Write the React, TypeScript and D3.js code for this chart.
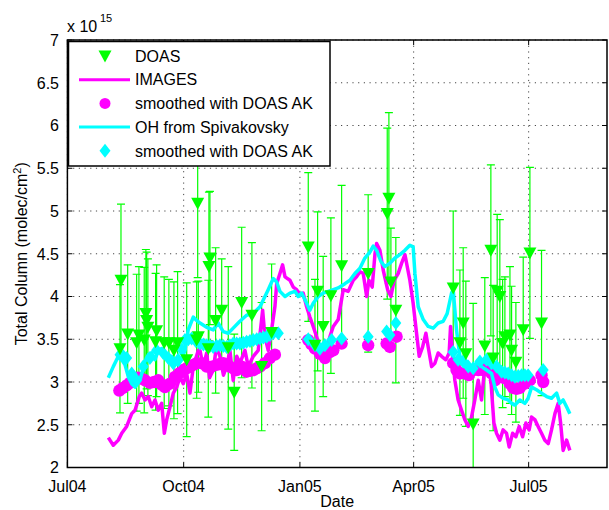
import React from 'react';
import * as d3 from 'd3';

// ---------- data (days since 2004-07-01, total column in 1e15 molec/cm2) ----------
const BASE = new Date(2004, 6, 1);
const dayToDate = (d: number) => new Date(BASE.getTime() + d * 86400000);

const xTickDays = [0, 92, 184, 274, 365];
const xTickLabels = ['Jul04', 'Oct04', 'Jan05', 'Apr05', 'Jul05'];
const yTicks = [2, 2.5, 3, 3.5, 4, 4.5, 5, 5.5, 6, 6.5, 7];

const doasDay = [41.6, 42.4, 47.7, 54.8, 56.6, 60.8, 62.1, 62.7, 63.7, 69.8, 70.6, 76.6, 80.3, 84.3, 87.2, 94.4, 102.3, 103.1, 103.6, 111.5, 112.0, 112.8, 117.3, 122.1, 127.3, 132.0, 137.9, 146.0, 153.7, 161.6, 190.6, 195.9, 198.0, 202.4, 208.5, 217.0, 238.0, 253.1, 254.4, 256.0, 259.9, 305.3, 310.6, 313.2, 315.3, 321.1, 330.3, 335.1, 336.9, 340.1, 342.2, 344.4, 346.2, 350.2, 351.5, 354.9, 360.7, 366.0, 375.2];
const doasVal = [3.39, 4.19, 3.56, 3.46, 3.55, 3.49, 3.80, 3.72, 3.64, 3.47, 3.60, 3.46, 3.46, 3.37, 3.46, 3.26, 3.49, 5.09, 3.53, 3.39, 4.35, 4.45, 3.72, 3.84, 3.40, 2.88, 3.93, 3.78, 3.18, 3.58, 4.58, 3.43, 4.06, 3.65, 4.01, 4.36, 4.27, 4.97, 5.15, 4.17, 3.84, 4.10, 3.46, 3.69, 3.33, 2.51, 3.42, 4.54, 3.28, 4.06, 4.00, 3.45, 3.53, 3.55, 3.37, 3.23, 3.61, 4.51, 3.69];
const doasErr = [0.75, 0.89, 0.81, 0.80, 0.80, 0.85, 0.75, 0.80, 0.80, 0.80, 0.77, 0.77, 0.74, 0.80, 0.83, 0.90, 0.68, 0.87, 0.65, 0.80, 0.87, 0.78, 0.85, 0.60, 0.95, 0.68, 0.88, 0.85, 0.75, 0.80, 0.87, 0.77, 0.93, 0.82, 0.91, 0.94, 0.92, 1.00, 1.00, 0.63, 0.85, 0.90, 0.85, 0.88, 0.85, 1.41, 0.80, 1.00, 0.85, 0.90, 0.90, 0.75, 0.70, 0.80, 0.75, 0.70, 0.85, 1.00, 0.85];

const imagesDay = [32.4, 36.3, 40.3, 43.0, 46.9, 50.9, 53.5, 56.9, 58.8, 61.4, 64.0, 66.7, 69.3, 71.9, 74.6, 76.7, 78.6, 81.2, 83.8, 86.5, 89.1, 91.7, 94.4, 97.0, 99.6, 103.6, 104.9, 107.5, 110.2, 112.5, 115.4, 118.0, 120.7, 123.5, 126.0, 128.6, 131.2, 134.0, 136.5, 140.5, 143.1, 147.1, 151.0, 154.5, 156.3, 158.9, 161.6, 164.2, 165.6, 168.2, 170.3, 172.2, 176.1, 178.7, 181.4, 184.0, 186.6, 189.3, 191.9, 194.5, 197.2, 199.8, 202.4, 205.1, 207.7, 210.4, 214.3, 218.3, 222.2, 226.2, 228.8, 231.5, 234.1, 236.8, 238.6, 241.2, 243.4, 244.7, 247.3, 249.9, 253.4, 256.0, 258.6, 261.8, 264.5, 267.1, 271.0, 273.6, 276.3, 278.4, 281.1, 283.7, 285.5, 288.2, 290.8, 293.4, 296.1, 299.5, 302.1, 303.2, 304.8, 306.6, 309.2, 311.9, 314.5, 317.2, 319.8, 322.4, 325.1, 327.7, 330.3, 332.5, 335.1, 337.5, 339.6, 342.2, 344.8, 347.5, 349.6, 352.3, 354.9, 357.5, 360.2, 362.8, 365.4, 367.3, 369.9, 372.5, 375.2, 377.8, 380.5, 383.1, 385.8, 388.4, 390.3, 392.3, 395.0, 397.6];
const imagesVal = [2.35, 2.26, 2.32, 2.40, 2.48, 2.63, 2.67, 2.83, 2.87, 2.79, 2.83, 2.71, 2.79, 2.67, 2.75, 2.40, 2.56, 2.71, 2.87, 2.94, 3.06, 2.98, 3.10, 2.87, 3.18, 3.37, 3.37, 3.18, 3.34, 3.05, 3.14, 3.42, 3.30, 3.08, 3.18, 3.37, 3.02, 3.30, 3.22, 3.37, 3.18, 3.30, 3.37, 3.84, 3.53, 3.37, 3.61, 3.88, 4.15, 4.27, 4.37, 4.23, 4.19, 4.11, 4.08, 4.02, 4.04, 3.88, 3.76, 3.65, 3.53, 3.41, 3.34, 3.37, 3.53, 3.65, 3.73, 4.08, 4.06, 4.19, 4.23, 4.29, 4.27, 4.00, 4.19, 4.11, 4.50, 4.62, 4.54, 4.31, 4.08, 4.00, 4.19, 4.27, 4.39, 4.49, 4.19, 3.92, 3.57, 3.30, 3.41, 3.57, 3.41, 3.18, 3.22, 3.34, 3.30, 3.26, 3.34, 3.65, 3.30, 3.02, 2.79, 2.67, 2.56, 2.48, 2.59, 2.79, 3.02, 2.79, 3.18, 3.26, 3.02, 2.52, 2.40, 2.32, 2.44, 2.40, 2.24, 2.40, 2.36, 2.48, 2.36, 2.52, 2.44, 2.59, 2.56, 2.48, 2.40, 2.32, 2.28, 2.44, 2.63, 2.75, 2.52, 2.20, 2.32, 2.20];

const imagesAkDay = [41.1, 44.0, 46.9, 49.5, 52.1, 55.8, 58.6, 61.4, 65.3, 68.6, 71.9, 74.5, 77.2, 81.2, 85.1, 88.4, 91.7, 94.3, 97.0, 99.6, 102.3, 106.2, 110.2, 114.2, 118.1, 120.7, 123.3, 126.0, 128.6, 131.2, 133.9, 137.9, 141.8, 144.5, 147.1, 149.8, 152.4, 156.3, 160.3, 164.2, 190.6, 193.2, 195.9, 199.8, 203.8, 207.7, 210.4, 217.0, 238.0, 252.6, 255.2, 260.5, 305.3, 307.9, 310.6, 314.5, 317.7, 321.1, 325.1, 329.0, 331.7, 335.6, 338.3, 342.2, 344.8, 347.5, 350.1, 352.7, 355.4, 358.0, 361.9, 365.9, 375.2, 376.5];
const imagesAkVal = [2.90, 2.93, 2.96, 2.99, 3.02, 3.05, 3.04, 3.02, 2.99, 3.00, 3.02, 2.97, 2.94, 2.98, 3.06, 3.10, 3.14, 3.16, 3.18, 3.20, 3.22, 3.22, 3.18, 3.18, 3.20, 3.21, 3.22, 3.20, 3.18, 3.16, 3.14, 3.18, 3.12, 3.13, 3.14, 3.16, 3.18, 3.22, 3.28, 3.32, 3.49, 3.44, 3.39, 3.33, 3.28, 3.35, 3.37, 3.45, 3.43, 3.45, 3.41, 3.53, 3.22, 3.14, 3.10, 3.10, 3.08, 3.14, 3.14, 3.14, 3.18, 3.10, 3.02, 3.06, 3.05, 3.04, 2.98, 2.93, 2.92, 2.93, 2.98, 3.02, 3.08, 3.00];

const ohDay = [32.4, 36.3, 40.3, 43.0, 45.6, 48.2, 50.9, 53.5, 57.4, 61.4, 64.0, 66.7, 69.3, 71.9, 74.6, 77.2, 79.8, 82.5, 85.1, 87.7, 90.4, 93.0, 95.6, 99.6, 102.3, 104.9, 110.2, 115.4, 119.4, 123.3, 127.3, 131.2, 136.5, 141.8, 147.1, 152.4, 155.0, 158.9, 162.9, 165.6, 168.2, 172.2, 176.1, 180.1, 182.7, 185.4, 189.3, 191.9, 194.5, 198.5, 202.4, 206.4, 210.4, 214.3, 219.6, 223.6, 227.5, 231.5, 235.4, 239.4, 242.0, 244.7, 248.1, 251.2, 255.2, 259.2, 263.1, 267.1, 271.0, 273.6, 275.0, 277.6, 281.6, 285.5, 289.5, 293.4, 297.4, 300.5, 304.0, 305.3, 307.9, 310.6, 314.5, 319.8, 323.8, 327.7, 331.7, 335.6, 338.3, 340.9, 344.8, 348.8, 351.5, 354.1, 358.0, 362.0, 364.6, 367.3, 371.2, 375.2, 379.2, 383.1, 387.1, 389.7, 392.3, 395.0, 397.6];
const ohVal = [3.05, 3.18, 3.30, 3.26, 3.20, 3.06, 2.98, 2.94, 3.02, 3.24, 3.32, 3.34, 3.26, 3.37, 3.39, 3.34, 3.24, 3.30, 3.26, 3.20, 3.26, 3.37, 3.61, 3.76, 3.72, 3.69, 3.64, 3.61, 3.69, 3.59, 3.57, 3.63, 3.71, 3.78, 3.80, 3.88, 3.96, 4.08, 4.21, 4.17, 4.06, 4.00, 4.04, 4.06, 4.00, 4.04, 3.92, 3.84, 3.92, 4.00, 4.04, 4.06, 4.08, 4.10, 4.15, 4.19, 4.27, 4.33, 4.45, 4.52, 4.59, 4.54, 4.41, 4.35, 4.39, 4.45, 4.49, 4.54, 4.60, 4.58, 4.27, 3.88, 3.73, 3.65, 3.63, 3.69, 3.71, 3.80, 4.04, 4.08, 3.61, 3.30, 3.26, 3.18, 3.22, 3.18, 3.14, 3.10, 2.94, 2.85, 2.81, 2.79, 2.75, 2.73, 2.79, 2.75, 2.81, 2.94, 2.91, 2.87, 2.83, 2.81, 2.87, 2.75, 2.79, 2.71, 2.63];

const ohAkDay = [41.6, 44.3, 46.9, 50.9, 54.8, 60.0, 65.3, 70.6, 75.8, 79.8, 83.8, 87.7, 90.4, 93.0, 95.7, 98.3, 101.6, 104.9, 107.6, 110.2, 112.8, 115.4, 118.1, 120.7, 123.4, 126.0, 128.6, 131.2, 133.9, 136.5, 139.2, 141.8, 144.5, 147.1, 149.8, 152.4, 155.1, 157.7, 160.3, 162.9, 166.9, 190.6, 195.9, 199.8, 203.8, 209.1, 217.0, 238.0, 252.6, 255.2, 259.9, 305.3, 309.2, 313.2, 317.2, 321.1, 326.4, 331.7, 335.6, 339.6, 343.6, 346.2, 348.8, 351.5, 354.1, 356.8, 359.4, 362.0, 364.6, 376.5];
const ohAkVal = [3.32, 3.30, 3.28, 3.10, 3.02, 3.18, 3.28, 3.37, 3.34, 3.28, 3.22, 3.26, 3.38, 3.49, 3.50, 3.51, 3.48, 3.45, 3.44, 3.43, 3.42, 3.41, 3.42, 3.43, 3.42, 3.41, 3.43, 3.45, 3.45, 3.45, 3.46, 3.47, 3.48, 3.49, 3.50, 3.51, 3.52, 3.53, 3.55, 3.57, 3.57, 3.50, 3.43, 3.39, 3.43, 3.49, 3.51, 3.53, 3.59, 3.55, 3.69, 3.35, 3.26, 3.24, 3.18, 3.16, 3.24, 3.26, 3.22, 3.18, 3.12, 3.11, 3.10, 3.08, 3.06, 3.07, 3.08, 3.08, 3.08, 3.14];

const legendLabels = ['DOAS', 'IMAGES', 'smoothed with DOAS AK', 'OH from Spivakovsky', 'smoothed with DOAS AK'];

// ---------- styles ----------
const GREEN = '#00ff00';
const MAGENTA = '#ff00ff';
const CYAN = '#00ffff';
const FONT = 'Liberation Sans, Arial, Helvetica, sans-serif';

const W = 609, H = 510;
const P = { left: 67.4, right: 607, top: 40, bottom: 467.5 };

const zip = (a: number[], b: number[]) => a.map((d, i) => [d, b[i]] as [number, number]);

const triPath = (cx: number, cy: number) => `M${cx - 6.5},${cy - 5.5}L${cx + 6.5},${cy - 5.5}L${cx},${cy + 6.5}Z`;
const diaPath = (cx: number, cy: number) => `M${cx},${cy - 7}L${cx + 5.5},${cy}L${cx},${cy + 7}L${cx - 5.5},${cy}Z`;

export default function App() {
  const x = d3.scaleTime().domain([dayToDate(0), dayToDate(427)]).range([P.left, P.right]);
  const y = d3.scaleLinear().domain([2, 7]).range([P.bottom, P.top]);
  const line = d3.line<[number, number]>().x(d => x(dayToDate(d[0]))).y(d => y(d[1]));

  const doas = doasDay.map((d, i) => ({ d, v: doasVal[i], e: doasErr[i] }));
  const grid = { stroke: '#333', strokeWidth: 0.9, strokeDasharray: '1.2,4.5' };

  return (
    <svg width={W} height={H} style={{ position: 'absolute', left: 0, top: 0, background: '#fff' }} fontFamily={FONT}>
      <rect x={0} y={0} width={W} height={H} fill="#fff" />
      <defs>
        <clipPath id="plotclip">
          <rect x={P.left} y={P.top} width={P.right - P.left} height={P.bottom - P.top} />
        </clipPath>
      </defs>
      {/* grid */}
      {yTicks.map(t => (
        <line key={'gy' + t} x1={P.left} x2={P.right} y1={y(t)} y2={y(t)} {...grid} />
      ))}
      {xTickDays.map(t => (
        <line key={'gx' + t} x1={x(dayToDate(t))} x2={x(dayToDate(t))} y1={P.top} y2={P.bottom} {...grid} />
      ))}
      <g clipPath="url(#plotclip)">
        {/* DOAS error bars */}
        {doas.map((p, i) => {
          const cx = x(dayToDate(p.d));
          const y1 = y(p.v + p.e), y2 = y(p.v - p.e);
          return (
            <g key={'eb' + i} stroke={GREEN} strokeWidth={1.2}>
              <line x1={cx} x2={cx} y1={y1} y2={y2} />
              <line x1={cx - 4} x2={cx + 4} y1={y1} y2={y1} />
              <line x1={cx - 4} x2={cx + 4} y1={y2} y2={y2} />
            </g>
          );
        })}
        <path d={line(zip(imagesDay, imagesVal)) || ''} fill="none" stroke={MAGENTA} strokeWidth={3.5} strokeLinejoin="round" />
        {imagesAkDay.map((d, i) => (
          <circle key={'ma' + i} cx={x(dayToDate(d))} cy={y(imagesAkVal[i])} r={6.2} fill={MAGENTA} />
        ))}
        <path d={line(zip(ohDay, ohVal)) || ''} fill="none" stroke={CYAN} strokeWidth={3.5} strokeLinejoin="round" />
        {ohAkDay.map((d, i) => (
          <path key={'ca' + i} d={diaPath(x(dayToDate(d)), y(ohAkVal[i]))} fill={CYAN} />
        ))}
        {doas.map((p, i) => (
          <path key={'tr' + i} d={triPath(x(dayToDate(p.d)), y(p.v))} fill={GREEN} />
        ))}
      </g>
      {/* axes box */}
      <rect x={P.left} y={P.top} width={P.right - P.left} height={P.bottom - P.top} fill="none" stroke="#000" strokeWidth={1.5} />
      {/* ticks */}
      {yTicks.map(t => (
        <g key={'ty' + t} stroke="#000" strokeWidth={1}>
          <line x1={P.left} x2={P.left + 5} y1={y(t)} y2={y(t)} />
          <line x1={P.right} x2={P.right - 5} y1={y(t)} y2={y(t)} />
        </g>
      ))}
      {xTickDays.map(t => (
        <g key={'tx' + t} stroke="#000" strokeWidth={1}>
          <line x1={x(dayToDate(t))} x2={x(dayToDate(t))} y1={P.bottom} y2={P.bottom - 5} />
          <line x1={x(dayToDate(t))} x2={x(dayToDate(t))} y1={P.top} y2={P.top + 5} />
        </g>
      ))}
      {/* tick labels */}
      {yTicks.map(t => (
        <text key={'ly' + t} x={59} y={y(t)} dy="0.36em" textAnchor="end" fontSize={16} fill="#000">{String(t)}</text>
      ))}
      {xTickDays.map((t, i) => (
        <text key={'lx' + t} x={x(dayToDate(t))} y={492} textAnchor="middle" fontSize={16} fill="#000">{xTickLabels[i]}</text>
      ))}
      {/* exponent */}
      <text x={67} y={31.5} fontSize={16} fill="#000">x 10</text>
      <text x={100} y={21.5} fontSize={11} fill="#000">15</text>
      {/* axis labels */}
      <text x={(P.left + P.right) / 2} y={507} textAnchor="middle" fontSize={16} fill="#000">Date</text>
      <text transform={`translate(27,${(P.top + P.bottom) / 2}) rotate(-90)`} textAnchor="middle" fontSize={16} fill="#000">
        Total Column (molec/cm<tspan dy={-6} fontSize={11}>2</tspan><tspan dy={6}>)</tspan>
      </text>
      {/* legend */}
      <g>
        <rect x={68.5} y={41.5} width={261.5} height={124.5} fill="#fff" stroke="#000" strokeWidth={1.5} />
        {legendLabels.map((lab, i) => {
          const cy = 56 + i * 23.7;
          let sym: React.ReactNode = null;
          if (i === 0) sym = <path d={triPath(105, cy)} fill={GREEN} />;
          if (i === 1) sym = <line x1={79} x2={130} y1={cy} y2={cy} stroke={MAGENTA} strokeWidth={3} />;
          if (i === 2) sym = <circle cx={105} cy={cy} r={5.5} fill={MAGENTA} />;
          if (i === 3) sym = <line x1={79} x2={130} y1={cy} y2={cy} stroke={CYAN} strokeWidth={3} />;
          if (i === 4) sym = <path d={diaPath(105, cy)} fill={CYAN} />;
          return (
            <g key={'lg' + i}>
              {sym}
              <text x={135} y={cy} dy="0.36em" fontSize={16} fill="#000">{lab}</text>
            </g>
          );
        })}
      </g>
    </svg>
  );
}
